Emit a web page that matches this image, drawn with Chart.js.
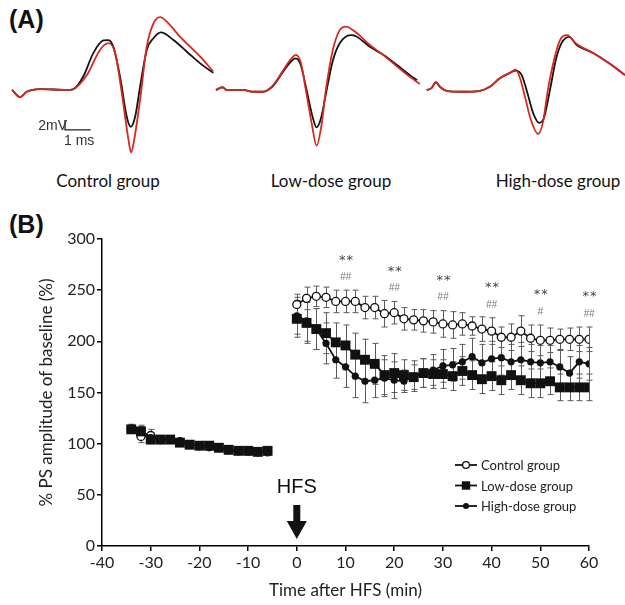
<!DOCTYPE html>
<html>
<head>
<meta charset="utf-8">
<script src="https://cdn.jsdelivr.net/npm/chart.js@4.4.1/dist/chart.umd.min.js"></script>
<style>
  html, body { margin: 0; padding: 0; background: #fff; }
  body { width: 625px; height: 605px; position: relative; overflow: hidden; font-family: Lato, "Open Sans", sans-serif; color: #111; }
  #traceBox { position: absolute; left: 0; top: 0; width: 625px; height: 170px; }
  #ltpBox { position: absolute; left: 0; top: 200px; width: 625px; height: 405px; }
  .panel { position: absolute; left: 9px; font: bold 25px "Liberation Sans", Arial, sans-serif; }
  .grp { position: absolute; top: 170px; font-size: 17px; transform: translateX(-50%); white-space: nowrap; }
</style>
</head>
<body>
<div class="panel" style="top:5px">(A)</div>
<div class="panel" style="top:210px">(B)</div>
<div class="grp" style="left:108px">Control group</div>
<div class="grp" style="left:331px">Low-dose group</div>
<div class="grp" style="left:558px">High-dose group</div>
<div id="traceBox"><canvas id="traces"></canvas></div>
<div id="ltpBox"><canvas id="ltp"></canvas></div>
<script>
// ---- panel A: field potential traces, [time (ms), amplitude (mV)] ----
const ctrlBefore = [[0,0],[0.31,-1.6],[0.57,-0.4],[1.09,0.2],[2.13,0],[2.39,0.2],[2.77,3.0],[3.16,8.2],[3.55,11.0],[3.75,11.1],[3.94,9.6],[4.20,3.0],[4.46,-5.9],[4.62,-8.2],[4.79,-5.9],[4.98,0.7],[5.24,8.9],[5.50,11.5],[5.79,12.8],[6.28,11.1],[6.80,8.5],[7.32,5.9],[7.83,3.8]];
const ctrlAfter = [[0,0],[0.31,-1.6],[0.57,-0.4],[1.09,0.2],[2.13,0],[2.39,0.2],[2.91,3.3],[3.42,8.9],[3.75,10.4],[4.01,8.2],[4.27,-0.7],[4.53,-11.1],[4.63,-13.9],[4.75,-11.1],[4.98,-2.2],[5.24,9.6],[5.50,14.8],[5.76,16.2],[6.02,15.2],[6.54,11.8],[7.32,7.4],[7.83,4.1]];
const lowBefore = [[0,0],[0.26,0.6],[0.42,0],[1.06,0],[1.45,-0.4],[1.84,-0.4],[2.23,0.9],[2.62,4.1],[2.95,6.5],[3.11,7.0],[3.30,5.6],[3.53,0],[3.76,-5.9],[3.92,-8.3],[4.09,-6.3],[4.31,0],[4.56,6.7],[4.82,10.4],[5.25,12.2],[5.47,11.9],[5.99,9.6],[6.51,7.8],[7.03,5.6],[7.55,3.3],[7.83,2.2]];
const lowAfter = [[0,0],[0.26,0.6],[0.42,0],[1.06,0],[1.45,-0.4],[1.84,-0.4],[2.23,1.1],[2.62,4.4],[2.95,7.1],[3.11,7.8],[3.30,6.2],[3.50,0],[3.74,-7.8],[3.92,-12.4],[4.11,-7.8],[4.28,0],[4.55,8.9],[4.82,13.3],[5.06,14.1],[5.47,12.7],[5.99,10.0],[6.51,7.8],[7.03,5.3],[7.55,2.9],[7.94,1.3]];
const highBefore = [[0,0],[0.19,0.4],[0.36,1.7],[0.52,0.7],[0.78,-0.2],[1.42,-0.4],[2.07,-0.2],[2.46,0.7],[2.85,2.6],[3.24,3.8],[3.47,4.3],[3.70,3.3],[3.89,0],[4.15,-5.2],[4.38,-7.3],[4.56,-6.3],[4.80,0],[5.03,6.7],[5.25,10.4],[5.55,11.8],[5.84,10.0],[6.48,8.2],[7.13,5.8],[7.72,3.3]];
const highAfter = [[0,0],[0.19,0.4],[0.36,1.8],[0.52,0.7],[0.78,-0.2],[1.42,-0.4],[2.07,-0.2],[2.46,0.7],[2.85,2.6],[3.24,3.8],[3.47,4.5],[3.63,2.7],[3.81,-1.1],[4.06,-6.7],[4.34,-9.8],[4.53,-7.1],[4.72,0],[4.96,6.7],[5.19,11.1],[5.46,12.2],[5.84,10.2],[6.48,8.2],[7.13,5.8],[7.72,3.3]];

// ---- panel B: % PS amplitude of baseline ----
const baseTimes = [-34,-32,-30,-28,-26,-24,-22,-20,-18,-16,-14,-12,-10,-8,-6];
const postTimes = [0,2,4,6,8,10,12,14,16,18,20,22,24,26,28,30,32,34,36,38,40,42,44,46,48,50,52,54,56,58,60];

const ctrlBase = [114,107,108,104,104,102,99,98,97,96,94,93,93,92,92];
const ctrlBaseErr = [4,6,6,4,3,3,3,3,3,3,3,3,3,3,3];
const lowBase = [114,112,104,104,104,101,99,98,98,96,94,93,93,92,93];
const lowBaseErr = [4,5,4,3,3,3,3,3,3,3,3,3,3,3,3];
const highBase = [115,113,106,104,105,102,99,98,97,96,94,93,92,92,93];
const highBaseErr = [4,5,5,3,3,3,3,3,3,3,3,3,3,3,3];

const ctrlPost = [236,242,244,243,239,239,239,233,233,227,228,222,221,220,219,217,216,217,215,212,210,204,204,210,203,201,201,202,202,202,202];
const ctrlPostErr = [10,11,10,10,11,11,11,11,11,13,11,11,10,11,11,13,13,11,9,12,13,10,13,15,13,15,12,10,11,12,12];
const lowPost = [222,218,212,208,199,196,187,182,178,167,169,167,165,169,168,168,166,171,167,163,166,162,167,162,159,159,161,155,155,155,155];
const lowPostErr = [18,20,20,20,19,20,21,20,20,19,19,15,12,14,14,14,14,14,14,14,14,14,14,14,14,14,13,13,13,13,13];
const highPost = [225,220,212,198,182,175,166,161,162,164,162,161,166,169,172,176,177,180,185,179,183,184,180,182,180,179,180,175,169,180,178];
const highPostErr = [18,20,20,20,18,20,21,21,17,18,18,11,15,14,15,16,16,17,18,18,17,17,17,17,17,17,16,16,16,16,16];

const sigTimes = [10,20,30,40,50,60];
const starMarks = ['**','**','**','**','**','**'];
const hashMarks = ['##','##','##','##','#','##'];

const groupNames = ['Control group','Low-dose group','High-dose group'];

// layout of panel A (ms offsets of each trace along the strip)
const traceOffsets = [0.47, 8.40, 16.60];
const RED = '#d8281e';

function toXY(pairs, off) { return pairs.map(p => ({ x: p[0] + off, y: p[1] })); }
function traceSet(pairs, off, color) {
  return { data: toXY(pairs, off), borderColor: color, borderWidth: 1.8, pointRadius: 0,
           cubicInterpolationMode: 'monotone', fill: false };
}

const scaleBar = {
  id: 'scaleBar',
  afterDraw(chart) {
    const c = chart.ctx, xs = chart.scales.x, ys = chart.scales.y;
    const x0 = xs.getPixelForValue(2.53), x1 = xs.getPixelForValue(3.53);
    const y0 = ys.getPixelForValue(-8.9), y1 = ys.getPixelForValue(-6.7);
    c.save();
    c.strokeStyle = '#222'; c.lineWidth = 1.3;
    c.beginPath(); c.moveTo(x0, y1); c.lineTo(x0, y0); c.lineTo(x1, y0); c.stroke();
    c.fillStyle = '#333'; c.font = '14px "Liberation Sans", Arial, sans-serif';
    c.textAlign = 'right'; c.textBaseline = 'middle';
    c.fillText('2mV', x0 + 2, y0 - 4);
    c.textAlign = 'left';
    c.fillText('1 ms', x0 - 1, y0 + 11);
    c.restore();
  }
};

new Chart(document.getElementById('traces'), {
  type: 'line',
  data: {
    datasets: [
      traceSet(ctrlBefore, traceOffsets[0], '#111'), traceSet(ctrlAfter, traceOffsets[0], RED),
      traceSet(lowBefore, traceOffsets[1], '#111'), traceSet(lowAfter, traceOffsets[1], RED),
      traceSet(highBefore, traceOffsets[2], '#111'), traceSet(highAfter, traceOffsets[2], RED)
    ].map((d, i) => Object.assign(d, { order: i % 2 ? 0 : 1 }))
  },
  options: {
    responsive: true, maintainAspectRatio: false, animation: false,
    layout: { padding: 0 },
    plugins: { legend: { display: false }, tooltip: { enabled: false } },
    scales: {
      x: { type: 'linear', min: 0, max: 24.32, display: false },
      y: { min: -17.8, max: 20, display: false }
    }
  },
  plugins: [scaleBar]
});

// ---- panel B ----
function series(base, baseErr, post, postErr) {
  const pts = base.map((v, i) => ({ x: baseTimes[i], y: v, e: baseErr[i] }));
  pts.push({ x: -3, y: null, e: 0 });
  return pts.concat(post.map((v, i) => ({ x: postTimes[i], y: v, e: postErr[i] })));
}

const ctrlData = series(ctrlBase, ctrlBaseErr, ctrlPost, ctrlPostErr);
const lowData = series(lowBase, lowBaseErr, lowPost, lowPostErr);
const highData = series(highBase, highBaseErr, highPost, highPostErr);

const pointLooks = [
  { pointStyle: 'circle', pointRadius: 4, pointBackgroundColor: '#fff', pointBorderWidth: 1.3 },
  { pointStyle: 'rect', pointRadius: 7, pointBackgroundColor: '#111', pointBorderWidth: 0 },
  { pointStyle: 'circle', pointRadius: 3.6, pointBackgroundColor: '#111', pointBorderWidth: 0 }
];

const errorBars = {
  id: 'errorBars',
  beforeDatasetsDraw(chart) {
    const c = chart.ctx, ys = chart.scales.y;
    c.save();
    c.strokeStyle = '#5a5a5a'; c.lineWidth = 1;
    chart.data.datasets.forEach((ds, di) => {
      const meta = chart.getDatasetMeta(di);
      ds.data.forEach((p, i) => {
        if (p.y == null) return;
        const x = Math.round(meta.data[i].x) + 0.5;
        const t = ys.getPixelForValue(p.y + p.e), b = ys.getPixelForValue(p.y - p.e);
        c.beginPath();
        c.moveTo(x, t); c.lineTo(x, b);
        c.moveTo(x - 3, t); c.lineTo(x + 3, t);
        c.moveTo(x - 3, b); c.lineTo(x + 3, b);
        c.stroke();
      });
    });
    c.restore();
  }
};

const extras = {
  id: 'extras',
  afterDraw(chart) {
    const c = chart.ctx, xs = chart.scales.x, ys = chart.scales.y, a = chart.chartArea;
    c.save();
    // significance marks above control group
    sigTimes.forEach((t, k) => {
      const i = postTimes.indexOf(t);
      const top = ys.getPixelForValue(ctrlPost[i] + ctrlPostErr[i]);
      const x = xs.getPixelForValue(t);
      c.textAlign = 'center'; c.textBaseline = 'middle';
      c.fillStyle = '#777'; c.font = 'italic 10px "Liberation Sans", Arial, sans-serif';
      c.fillText(hashMarks[k], x, top - 13);
      c.fillStyle = '#444'; c.font = '13px "DejaVu Sans", sans-serif';
      c.letterSpacing = '1px';
      c.fillText(starMarks[k], x + 1, top - 30);
      c.letterSpacing = '0px';
    });
    // HFS arrow
    const x0 = xs.getPixelForValue(0);
    c.fillStyle = '#111';
    c.font = '20px "Liberation Sans", Arial, sans-serif';
    c.textAlign = 'center'; c.textBaseline = 'middle';
    c.fillText('HFS', x0, 287);
    c.beginPath();
    c.rect(x0 - 3.5, 305, 7, 16);
    c.moveTo(x0 - 10, 321); c.lineTo(x0 + 10, 321); c.lineTo(x0, 339); c.closePath();
    c.fill();
    // legend
    c.font = '13px Lato, "Open Sans", sans-serif';
    c.textAlign = 'left';
    groupNames.forEach((name, k) => {
      const y = 265 + k * 20.5;
      c.strokeStyle = '#111'; c.lineWidth = 1.8;
      c.beginPath(); c.moveTo(455, y); c.lineTo(477, y); c.stroke();
      const lk = pointLooks[k];
      c.fillStyle = lk.pointBackgroundColor; c.strokeStyle = '#111'; c.lineWidth = lk.pointBorderWidth || 0.01;
      c.beginPath();
      if (lk.pointStyle === 'rect') { const s = lk.pointRadius * 0.85 * Math.SQRT1_2; c.rect(466 - s, y - s, 2 * s, 2 * s); }
      else c.arc(466, y, lk.pointRadius * 0.85, 0, Math.PI * 2);
      c.fill(); if (lk.pointBorderWidth) c.stroke();
      c.fillStyle = '#222';
      c.fillText(name, 481, y + 1);
    });
    // axis titles
    c.fillStyle = '#222';
    c.font = '17px Lato, "Open Sans", sans-serif';
    c.textAlign = 'center';
    c.fillText('Time after HFS (min)', (a.left + a.right) / 2, 391);
    c.translate(47, (a.top + a.bottom) / 2);
    c.rotate(-Math.PI / 2);
    c.fillText('% PS amplitude of baseline (%)', 0, 0);
    c.restore();
  }
};

const axisLine = { display: true, color: '#000', width: 1.5 };
const tickGrid = { display: true, drawOnChartArea: false, drawTicks: true, tickLength: 5, color: '#000', lineWidth: 1.5 };

new Chart(document.getElementById('ltp'), {
  type: 'line',
  data: {
    datasets: [ctrlData, lowData, highData].map((d, k) => Object.assign({
      label: groupNames[k], data: d, borderColor: '#111', borderWidth: 1.8,
      pointBorderColor: '#111', spanGaps: false, tension: 0, fill: false,
      order: [3, 1, 2][k]
    }, pointLooks[k]))
  },
  options: {
    responsive: true, maintainAspectRatio: false, animation: false,
    layout: { padding: { top: 39, right: 36, left: 0, bottom: 0 } },
    plugins: { legend: { display: false }, tooltip: { enabled: false } },
    scales: {
      x: {
        type: 'linear', min: -40, max: 60,
        ticks: { stepSize: 10, color: '#222', font: { family: 'Lato', size: 16 }, padding: 2 },
        grid: tickGrid, border: axisLine,
        afterFit(s) { s.height = 59; }
      },
      y: {
        min: 0, max: 300,
        ticks: { stepSize: 50, color: '#222', font: { family: 'Lato', size: 16 }, padding: 2 },
        grid: tickGrid, border: axisLine,
        afterFit(s) { s.width = 102; }
      }
    }
  },
  plugins: [errorBars, extras]
});
</script>
</body>
</html>
